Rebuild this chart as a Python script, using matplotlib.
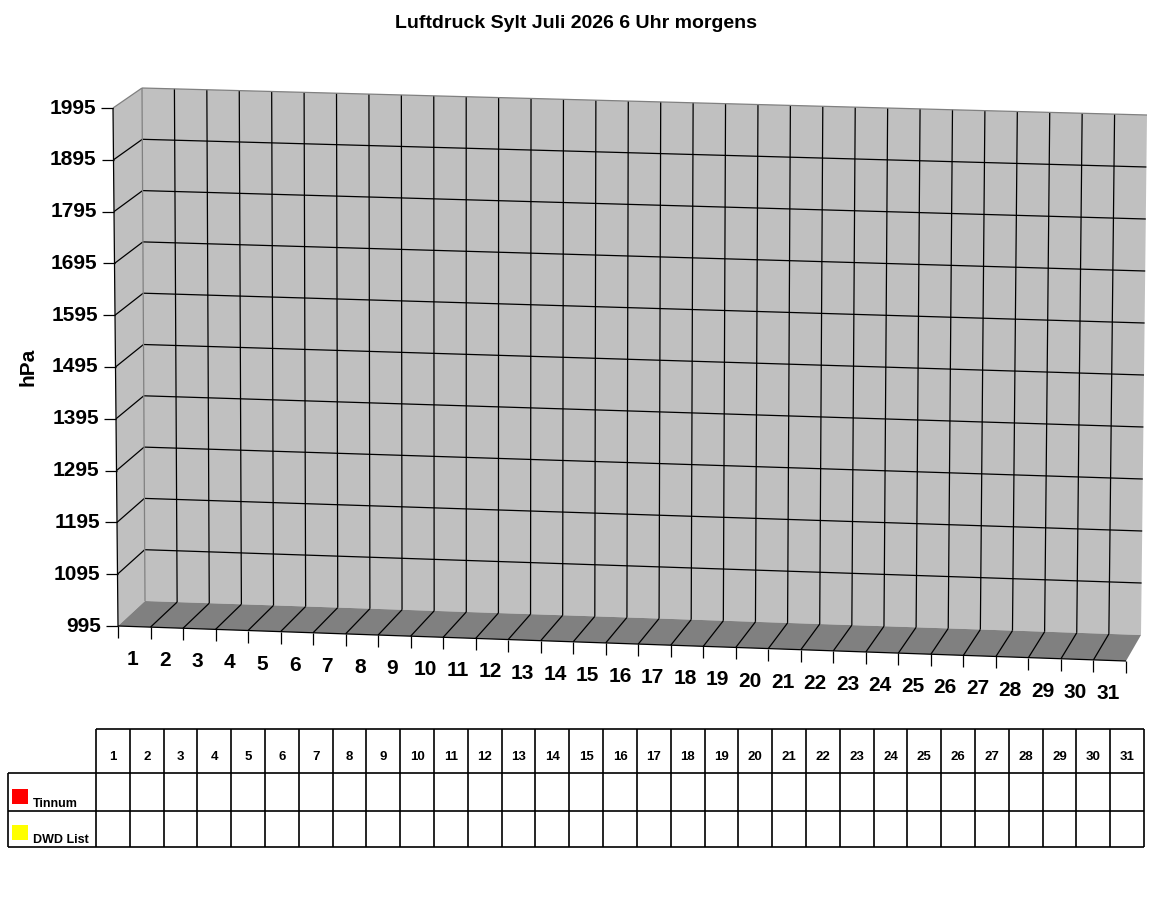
import numpy as np
import matplotlib
matplotlib.use("Agg")
import matplotlib.pyplot as plt
from matplotlib.patches import Polygon, Rectangle

plt.rcParams["font.family"] = ["Liberation Sans", "DejaVu Sans"]

# chart data
title = "Luftdruck Sylt Juli 2026 6 Uhr morgens"
y_label = "hPa"
days = [str(d) for d in range(1, 32)]
y_ticks = [995, 1095, 1195, 1295, 1395, 1495, 1595, 1695, 1795, 1895, 1995]
series_names = ["Tinnum", "DWD List"]
series_colors = ["#ff0000", "#ffff00"]
tinnum = [None] * 31      # no readings yet
dwd_list = [None] * 31    # no readings yet
series_values = [tinnum, dwd_list]

W, H = 1152, 900
n_days = len(days)
y_min, y_max = y_ticks[0], y_ticks[-1]

# box corners in pixels (front plane w=0, back plane w=1)
front = {"bl": (118, 626), "br": (1126, 661), "tl": (113, 108), "tr": (1130, 136)}
back = {"bl": (145, 601), "br": (1141, 635), "tl": (142, 88), "tr": (1147, 115)}


def plane(c, u, t):
    p = [(1 - u) * (1 - t) * c["bl"][i] + u * (1 - t) * c["br"][i]
         + (1 - u) * t * c["tl"][i] + u * t * c["tr"][i] for i in range(2)]
    return np.array(p)


def proj(d, v, w):
    u = d / n_days
    t = (v - y_min) / (y_max - y_min)
    return (1 - w) * plane(front, u, t) + w * plane(back, u, t)


def line(ax, a, b, color="black", lw=0.9):
    ax.plot([a[0], b[0]], [a[1], b[1]], color=color, lw=lw, solid_capstyle="butt")


fig = plt.figure(figsize=(W / 100, H / 100), dpi=100)
ax = fig.add_axes([0, 0, 1, 1])
ax.set_xlim(0, W)
ax.set_ylim(H, 0)
ax.axis("off")

wall = "#c0c0c0"
floor = "#808080"

# walls and floor
ax.add_patch(Polygon([proj(0, y_min, 1), proj(n_days, y_min, 1),
                      proj(n_days, y_max, 1), proj(0, y_max, 1)],
                     closed=True, fc=wall, ec="none"))
ax.add_patch(Polygon([proj(0, y_min, 0), proj(0, y_min, 1),
                      proj(0, y_max, 1), proj(0, y_max, 0)],
                     closed=True, fc=wall, ec="none"))
ax.add_patch(Polygon([proj(0, y_min, 0), proj(n_days, y_min, 0),
                      proj(n_days, y_min, 1), proj(0, y_min, 1)],
                     closed=True, fc=floor, ec="none"))

# gridlines
for v in y_ticks[1:-1]:
    line(ax, proj(0, v, 0), proj(0, v, 1))
    line(ax, proj(0, v, 1), proj(n_days, v, 1))
for k in range(1, n_days):
    line(ax, proj(k, y_min, 1), proj(k, y_max, 1))
    line(ax, proj(k, y_min, 0), proj(k, y_min, 1))

# box edges
line(ax, proj(0, y_min, 1), proj(0, y_max, 1), color="#808080")
line(ax, proj(0, y_max, 1), proj(n_days, y_max, 1), color="#808080")
line(ax, proj(0, y_max, 0), proj(0, y_max, 1), color="#808080")
line(ax, proj(0, y_min, 0), proj(0, y_max, 0))
line(ax, proj(0, y_min, 0), proj(n_days, y_min, 0))

# bars (drawn only where readings exist)
bar_w = 0.35
for s, (vals, col) in enumerate(zip(series_values, series_colors)):
    for i, v in enumerate(vals):
        if v is None:
            continue
        d0 = i + 0.15 + s * bar_w
        pts = [proj(d0, y_min, 0.3), proj(d0 + bar_w, y_min, 0.3),
               proj(d0 + bar_w, v, 0.3), proj(d0, v, 0.3)]
        ax.add_patch(Polygon(pts, closed=True, fc=col, ec="black", lw=0.7))

# y axis ticks and labels
for v in y_ticks:
    x, y = proj(0, v, 0)
    line(ax, (x - 12, y), (x, y))
    ax.text(x - 17, y, str(v), ha="right", va="center",
            fontsize=15, fontweight="bold")

# x axis ticks and labels
for k in range(n_days + 1):
    x, y = proj(k, y_min, 0)
    line(ax, (x, y), (x, y + 12))
for i, lab in enumerate(days):
    x, y = proj(i + 0.5, y_min, 0)
    ax.text(x - 2, y + 33, lab, ha="center", va="center",
            fontsize=15, fontweight="bold")

ax.text(28, 367, y_label, rotation=90, ha="center", va="center",
        fontsize=15, fontweight="bold")
ax.text(576, 23, title, ha="center", va="center",
        fontsize=14, fontweight="bold")

# data table
t_left, t_col0, t_right = 8, 96, 1144
t_rows = [729, 773, 811, 847]
col_w = (t_right - t_col0) / n_days
tl = 1.2
line(ax, (t_col0, t_rows[0]), (t_right, t_rows[0]), lw=tl)
for r in t_rows[1:]:
    line(ax, (t_left, r), (t_right, r), lw=tl)
line(ax, (t_left, t_rows[1]), (t_left, t_rows[-1]), lw=tl)
for k in range(n_days + 1):
    x = t_col0 + k * col_w
    line(ax, (x, t_rows[0]), (x, t_rows[-1]), lw=tl)
for i, lab in enumerate(days):
    ax.text(t_col0 + (i + 0.5) * col_w, 757, lab, ha="center", va="center",
            fontsize=9.5, fontweight="bold")
for r, (name, col, vals) in enumerate(zip(series_names, series_colors, series_values)):
    top, bot = t_rows[r + 1], t_rows[r + 2]
    ax.add_patch(Rectangle((12, bot - 22), 16, 15, fc=col, ec="none"))
    ax.text(33, bot - 4, name, ha="left", va="baseline",
            fontsize=9, fontweight="bold")
    for i, v in enumerate(vals):
        if v is not None:
            ax.text(t_col0 + (i + 0.5) * col_w, (top + bot) / 2, str(v),
                    ha="center", va="center", fontsize=8)

fig.savefig("out.png", dpi=100)
plt.close(fig)
